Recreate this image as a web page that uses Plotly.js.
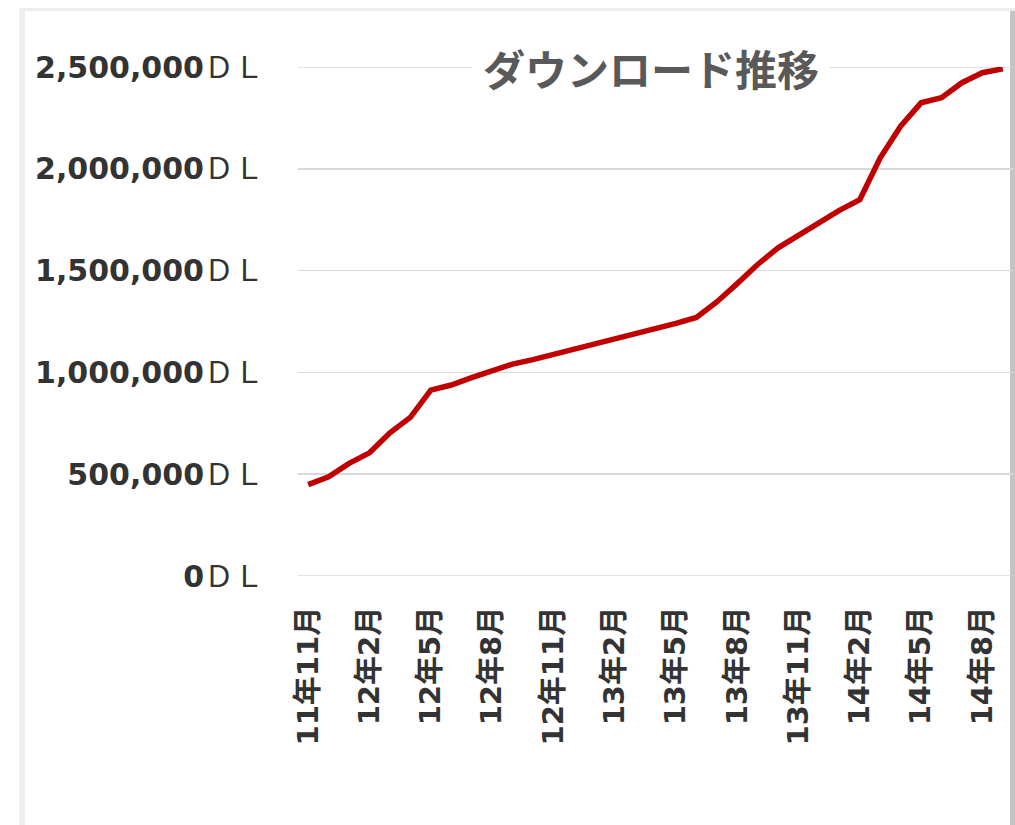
<!DOCTYPE html>
<html>
<head>
<meta charset="utf-8">
<script src="https://cdn.plot.ly/plotly-3.0.1.min.js"></script>
<style>html,body{margin:0;padding:0;background:#fff;}#chart{width:1015px;height:825px;}</style>
</head>
<body>
<div id="chart"></div>
<script>
// Data
const months = [
  "11年11月","11年12月","12年1月","12年2月","12年3月","12年4月","12年5月","12年6月","12年7月",
  "12年8月","12年9月","12年10月","12年11月","12年12月","13年1月","13年2月","13年3月","13年4月",
  "13年5月","13年6月","13年7月","13年8月","13年9月","13年10月","13年11月","13年12月","14年1月",
  "14年2月","14年3月","14年4月","14年5月","14年6月","14年7月","14年8月","14年9月"
];
const downloads = [
  449000, 487000, 553000, 605000, 703000, 779000, 913000, 938000, 974000,
  1008000, 1041000, 1063000, 1088000, 1113000, 1137000, 1162000, 1187000, 1212000,
  1241000, 1270000, 1346000, 1436000, 1530000, 1612000, 1676000, 1734000, 1796000,
  1848000, 2054000, 2209000, 2324000, 2349000, 2423000, 2472000, 2491000
];
const xTickVals = ["11年11月","12年2月","12年5月","12年8月","12年11月","13年2月","13年5月","13年8月","13年11月","14年2月","14年5月","14年8月"];
const yTickVals = [0, 500000, 1000000, 1500000, 2000000, 2500000];
const yTickText = ["<b>0</b>ＤＬ","<b>500,000</b>ＤＬ","<b>1,000,000</b>ＤＬ","<b>1,500,000</b>ＤＬ","<b>2,000,000</b>ＤＬ","<b>2,500,000</b>ＤＬ"];
const titleText = "ダウンロード推移";

// Layout geometry (pixels)
const W = 1015, H = 825, ML = 298, MR = 2, MT = 67, MB = 249;
const PW = W - ML - MR, PH = H - MT - MB;
const px = p => (p - ML) / PW;
const py = p => (H - MB - p) / PH;

const font = "DejaVu Sans, Noto Sans CJK JP, sans-serif";
const gridColor = "#d9d9d9";

const trace = {
  x: months, y: downloads, type: "scatter", mode: "lines",
  line: {color: "#C00000", width: 5.5, shape: "linear"},
  cliponaxis: false, hoverinfo: "skip"
};

// Edge gridlines (Plotly omits gridlines on the range boundaries)
const edgeGrid = [yTickVals[0], yTickVals[yTickVals.length - 1]].map(v => ({
  type: "line", xref: "paper", yref: "y", layer: "below",
  x0: 0, x1: 1, y0: v, y1: v, line: {color: gridColor, width: 1.5}
}));

const layout = {
  width: W, height: H,
  margin: {l: ML, r: MR, t: MT, b: MB, pad: 0},
  paper_bgcolor: "#ffffff", plot_bgcolor: "rgba(0,0,0,0)",
  showlegend: false,
  xaxis: {
    type: "category", range: [-0.5, months.length - 0.5], fixedrange: true,
    showgrid: false, zeroline: false, showline: false, ticks: "",
    tickmode: "array", tickvals: xTickVals, ticktext: xTickVals,
    tickangle: -90, ticklabelstandoff: 24,
    tickfont: {family: font, size: 29, color: "#333333", weight: "bold"}
  },
  yaxis: {
    range: [0, 2500000], fixedrange: true,
    showgrid: true, gridcolor: gridColor, gridwidth: 1.5,
    zeroline: false, showline: false, ticks: "",
    tickmode: "array", tickvals: yTickVals, ticktext: yTickText,
    ticklabelstandoff: 33,
    tickfont: {family: font, size: 30, color: "#333333"}
  },
  shapes: [
    {type: "rect", xref: "paper", yref: "paper", layer: "below",
     x0: px(19), x1: px(1015), y0: py(8), y1: py(900), fillcolor: "#eeeeee", line: {width: 0}},
    {type: "rect", xref: "paper", yref: "paper", layer: "below",
     x0: px(1010), x1: px(1015), y0: py(11), y1: py(900), fillcolor: "#c4c4c4", line: {width: 0}},
    {type: "rect", xref: "paper", yref: "paper", layer: "below",
     x0: px(25), x1: px(1010), y0: py(11), y1: py(900), fillcolor: "#ffffff", line: {width: 0}}
  ].concat(edgeGrid),
  annotations: [
    {text: titleText, xref: "paper", yref: "paper", x: px(651), y: py(68),
     xanchor: "center", yanchor: "middle", showarrow: false,
     bgcolor: "#ffffff", borderpad: 10,
     font: {family: "Noto Sans CJK JP, sans-serif", size: 42, color: "#595959", weight: "bold"}}
  ]
};

Plotly.newPlot("chart", [trace], layout, {displayModeBar: false, staticPlot: true});
</script>
</body>
</html>
